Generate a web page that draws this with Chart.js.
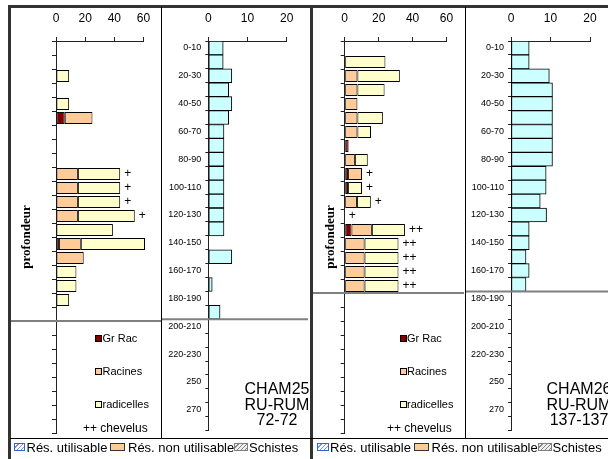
<!DOCTYPE html>
<html>
<head>
<meta charset="utf-8">
<script src="https://cdn.jsdelivr.net/npm/chart.js@4.4.0/dist/chart.umd.min.js"></script>
<style>
  html, body { margin: 0; padding: 0; background: #fff; }
  body { width: 608px; height: 459px; position: relative; overflow: hidden;
         font-family: "Liberation Sans", Arial, sans-serif; color: #000; }
  .abs { position: absolute; }
  canvas { position: absolute; top: 0; }
  .line { position: absolute; background: #222; z-index: 5; }
  .key { position: absolute; font-size: 11px; line-height: 14px; white-space: nowrap; }
  .sq { position: absolute; width: 7px; height: 7px; box-sizing: border-box; border: 1px solid #000; }
  .site { position: absolute; width: 110px; text-align: center; font-size: 16px; line-height: 15.5px; }
  .foot { position: absolute; top: 440px; font-size: 13px; line-height: 16px; white-space: nowrap; }
  .ico { position: absolute; top: 443px; height: 8px; box-sizing: border-box; }
</style>
</head>
<body>

<canvas id="c25roots" width="151" height="440" style="left:10px"></canvas>
<canvas id="c25res" width="146" height="440" style="left:162px"></canvas>
<canvas id="c26roots" width="151" height="440" style="left:313px"></canvas>
<canvas id="c26res" width="142" height="440" style="left:466px"></canvas>

<!-- frame -->
<div class="line" style="left:8px;top:5px;width:2.5px;height:454px;background:#333"></div>
<div class="line" style="left:8px;top:5px;width:600px;height:2.5px;background:#333"></div>
<div class="line" style="left:309.5px;top:5px;width:3px;height:454px;background:#333"></div>
<div class="line" style="left:10px;top:437.5px;width:598px;height:1px;background:#000"></div>
<div class="line" style="left:161px;top:7px;width:1px;height:431px;background:#000"></div>
<div class="line" style="left:464.5px;top:7px;width:1px;height:431px;background:#000"></div>

<!-- panel keys CHAM25 -->
<div class="sq" style="left:95px;top:334.5px;background:#800000"></div>
<div class="key" style="left:102.5px;top:331px">Gr Rac</div>
<div class="sq" style="left:95px;top:367.5px;background:#FFCC99"></div>
<div class="key" style="left:102.5px;top:364px">Racines</div>
<div class="sq" style="left:95px;top:400.5px;background:#FFFFCC"></div>
<div class="key" style="left:102.5px;top:397px">radicelles</div>
<div class="key" style="left:83px;top:421px;font-size:12px">++ chevelus</div>
<div class="site" style="left:222px;top:381px">CHAM25<br>RU-RUM<br>72-72</div>

<!-- panel keys CHAM26 -->
<div class="sq" style="left:399.5px;top:334.5px;background:#800000"></div>
<div class="key" style="left:407px;top:331px">Gr Rac</div>
<div class="sq" style="left:399.5px;top:367.5px;background:#FFCC99"></div>
<div class="key" style="left:407px;top:364px">Racines</div>
<div class="sq" style="left:399.5px;top:400.5px;background:#FFFFCC"></div>
<div class="key" style="left:407px;top:397px">radicelles</div>
<div class="key" style="left:387px;top:421px;font-size:12px">++ chevelus</div>
<div class="site" style="left:524px;top:381px">CHAM26<br>RU-RUM<br>137-137</div>

<!-- bottom legend -->
<div class="ico" style="left:13.5px;width:11.5px;border:1px solid #3366CC;background:repeating-linear-gradient(135deg,#fff 0 2px,#6699FF 2px 3px)"></div>
<div class="foot" style="left:26.5px">Rés. utilisable</div>
<div class="ico" style="left:110px;width:15px;border:1.5px solid #333;background:#FFCC99"></div>
<div class="foot" style="left:128px">Rés. non utilisable</div>
<div class="ico" style="left:234px;width:14px;border:1px solid #808080;background:repeating-linear-gradient(135deg,#eee 0 2px,#888 2px 3px)"></div>
<div class="foot" style="left:249px">Schistes</div>

<div class="ico" style="left:317px;width:11.5px;border:1px solid #3366CC;background:repeating-linear-gradient(135deg,#fff 0 2px,#6699FF 2px 3px)"></div>
<div class="foot" style="left:330px">Rés. utilisable</div>
<div class="ico" style="left:413.5px;width:15px;border:1.5px solid #333;background:#FFCC99"></div>
<div class="foot" style="left:431.5px">Rés. non utilisable</div>
<div class="ico" style="left:537.5px;width:14px;border:1px solid #808080;background:repeating-linear-gradient(135deg,#eee 0 2px,#888 2px 3px)"></div>
<div class="foot" style="left:552.5px">Schistes</div>

<script>
// depth classes, 10 cm each (only every other one is labelled)
const depthLabels = ["0-10", "10-20", "20-30", "30-40", "40-50", "50-60", "60-70", "70-80",
  "80-90", "90-100", "100-110", "110-120", "120-130", "130-140", "140-150", "150-160",
  "160-170", "170-180", "180-190", "190-200", "200-210", "210-220", "220-230", "230-240",
  "250", "260", "270", "280"];
const rootTicks = [0, 20, 40, 60];
const reserveTicks = [0, 10, 20];
const _ = null;

// CHAM25 - root counts per layer
const cham25GrRac      = [_, _, _, _, _, 6, _, _, _, _, _, _, _, _, 2, _, _, _, _, _, _, _, _, _, _, _, _, _];
const cham25Racines    = [_, _, _, _, _, 19, _, _, _, 15, 15, 15, 15, _, 15, 19, _, _, _, _, _, _, _, _, _, _, _, _];
const cham25Radicelles = [_, _, 9, _, 9, _, _, _, _, 29, 29, 29, 39, 39, 44, _, 14, 14, 9, _, _, _, _, _, _, _, _, _];
const cham25Chevelus   = ["", "", "", "", "", "", "", "", "", "+", "+", "+", "+", "", "", "", "", "", "", "", "", "", "", "", "", "", "", ""];
// CHAM25 - water reserve (mm) per layer
const cham25Reserve    = [3.8, 3.8, 6, 5.2, 6, 5.2, 4, 4, 4, 4, 4, 4, 4, 4, _, 6, _, 1, _, 3, _, _, _, _, _, _, _, _];
const cham25Bedrock = 20;

// CHAM26 - root counts per layer
const cham26GrRac      = [_, _, _, _, _, _, _, 2.3, _, 2, 2, _, _, 4, _, _, _, _, _, _, _, _, _, _, _, _, _, _];
const cham26Racines    = [_, _, 7.5, 7.5, 7.5, 7.5, 7.5, _, 6, 8.2, _, 7.2, _, 12, 11.7, 11.7, 11.7, 11.7, _, _, _, _, _, _, _, _, _, _];
const cham26Radicelles = [_, 24, 25, 16, _, 15, 8, _, 7.6, _, 8.2, 8.2, _, 19.5, 20, 20, 20, 20, _, _, _, _, _, _, _, _, _, _];
const cham26Chevelus   = ["", "", "", "", "", "", "", "", "", "+", "+", "+", "+", "++", "++", "++", "++", "++", "", "", "", "", "", "", "", "", "", ""];
const cham26Reserve    = [4.6, 4.6, 9.7, 10.5, 10.5, 10.5, 10.5, 10.5, 10.5, 8.9, 8.9, 7.4, 9, 4.6, 4.6, 3.8, 4.6, 3.8, _, _, _, _, _, _, _, _, _, _];
const cham26Bedrock = 18;

const sans = "'Liberation Sans', Arial, sans-serif";

// bedrock line + "+" marks for the fine roots
const depthMarks = {
  id: "depthMarks",
  afterDatasetsDraw(chart, args, opts) {
    const { ctx, scales: { x, y } } = chart;
    const band = y.height / depthLabels.length;
    ctx.save();
    if (opts.bedrock != null) {
      const yy = y.getPixelForValue(opts.bedrock) - band / 2;
      ctx.strokeStyle = "#808080";
      ctx.lineWidth = 2;
      ctx.beginPath();
      ctx.moveTo(0, yy);
      ctx.lineTo(chart.width, yy);
      ctx.stroke();
    }
    if (opts.chevelus) {
      ctx.fillStyle = "#000";
      ctx.font = "12px " + sans;
      ctx.textBaseline = "middle";
      opts.chevelus.forEach((mark, i) => {
        if (!mark) return;
        let total = 0;
        chart.data.datasets.forEach((ds) => { total += ds.data[i] || 0; });
        ctx.fillText(mark, x.getPixelForValue(total) + 4, y.getPixelForValue(i));
      });
    }
    ctx.restore();
  },
};

function xAxis(max, ticks) {
  return {
    position: "top",
    stacked: true,
    min: 0,
    max: max,
    afterBuildTicks: (s) => { s.ticks = ticks.map((v) => ({ value: v })); },
    afterFit: (s) => { s.height = 41; },
    grid: { display: true, drawOnChartArea: false, tickLength: 4, color: "#222" },
    border: { display: true, color: "#222", width: 1 },
    ticks: { padding: 10.8, color: "#000", maxRotation: 0, font: { family: sans, size: 12 } },
  };
}

function rootChart(id, grRac, racines, radicelles, chevelus, bedrock, axisW, padRight, titlePad) {
  const common = { borderColor: "#000", borderWidth: 1, borderSkipped: false,
                   barPercentage: 0.87, categoryPercentage: 1, clip: 4 };
  return new Chart(document.getElementById(id), {
    type: "bar",
    data: {
      labels: depthLabels,
      datasets: [
        { label: "Gr Rac", data: grRac, backgroundColor: "#800000", ...common },
        { label: "Racines", data: racines, backgroundColor: "#FFCC99", ...common },
        { label: "radicelles", data: radicelles, backgroundColor: "#FFFFCC", ...common },
      ],
    },
    options: {
      indexAxis: "y",
      responsive: false,
      animation: false,
      layout: { padding: { left: 0, right: padRight, top: 0, bottom: 7 } },
      plugins: { legend: { display: false }, tooltip: { enabled: false },
                 depthMarks: { bedrock: bedrock, chevelus: chevelus } },
      scales: {
        x: xAxis(60, rootTicks),
        y: {
          stacked: true,
          afterFit: (s) => { s.width = axisW; },
          grid: { display: true, drawOnChartArea: false, tickLength: 4, color: "#222" },
          border: { display: true, color: "#222", width: 1 },
          ticks: { display: false },
          title: { display: true, text: "profondeur", color: "#000",
                   font: { family: "'Liberation Serif', 'Times New Roman', serif", size: 13, weight: "bold" },
                   padding: { top: titlePad, bottom: 0 } },
        },
      },
    },
    plugins: [depthMarks],
  });
}

function reserveChart(id, values, bedrock, axisW, padRight) {
  return new Chart(document.getElementById(id), {
    type: "bar",
    data: {
      labels: depthLabels,
      datasets: [{ label: "Rés. utilisable", data: values, backgroundColor: "#CCFFFF",
                   borderColor: "#000", borderWidth: 1, borderSkipped: false,
                   barPercentage: 1, categoryPercentage: 1 }],
    },
    options: {
      indexAxis: "y",
      responsive: false,
      animation: false,
      layout: { padding: { left: 0, right: padRight, top: 0, bottom: 7 } },
      plugins: { legend: { display: false }, tooltip: { enabled: false },
                 depthMarks: { bedrock: bedrock } },
      scales: {
        x: xAxis(20, reserveTicks),
        y: {
          afterFit: (s) => { s.width = axisW; },
          grid: { display: true, drawOnChartArea: false, tickLength: 3, color: "#222" },
          border: { display: true, color: "#222", width: 1 },
          ticks: { autoSkip: false, padding: 4, color: "#000", font: { family: sans, size: 9 },
                   callback: (v, i) => (i % 2 ? "" : depthLabels[i]) },
        },
      },
    },
    plugins: [depthMarks],
  });
}

rootChart("c25roots", cham25GrRac, cham25Racines, cham25Radicelles, cham25Chevelus, cham25Bedrock, 46, 12.7, 9.2);
reserveChart("c25res", cham25Reserve, cham25Bedrock, 46.3, 21.3);
rootChart("c26roots", cham26GrRac, cham26Racines, cham26Radicelles, cham26Chevelus, cham26Bedrock, 31.7, 13, 10.2);
reserveChart("c26res", cham26Reserve, cham26Bedrock, 45, 18);
</script>
</body>
</html>
